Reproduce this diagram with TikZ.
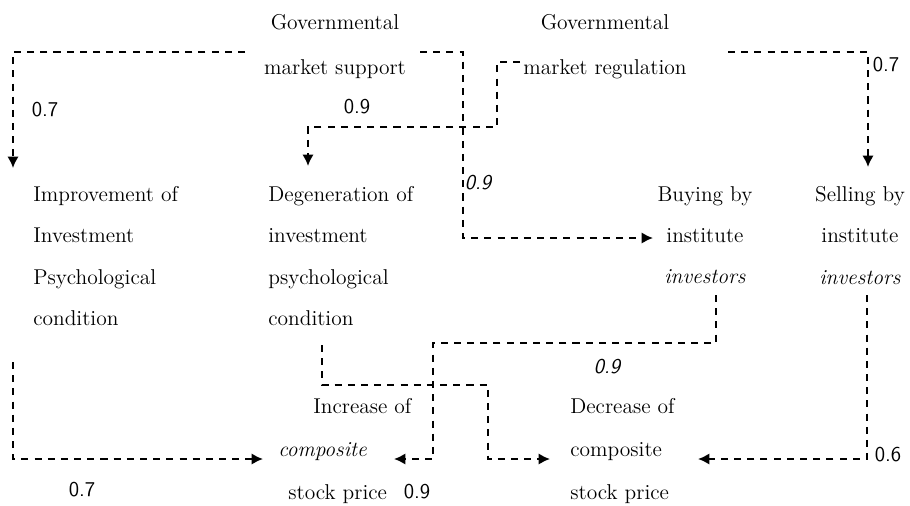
\documentclass[tikz,border=0pt]{standalone}
\usetikzlibrary{arrows.meta,calc}

\begin{document}
\begin{tikzpicture}[x=0.02cm,y=-0.02cm,
  every node/.style={inner sep=0pt,font=\fontsize{12.2}{23.5}\selectfont},
  head/.style={align=center,font=\fontsize{12.2}{25.5}\selectfont},
  lbl/.style={font=\sffamily\fontsize{12}{14}\selectfont},
  flow/.style={-{Latex[length=6.5pt,width=6.5pt]},dash pattern=on 4pt off 3.5pt,line width=1.1pt}]
\useasboundingbox[fill=white] (0,0) rectangle (910,505);
% causes
\node[head,anchor=north] (sup) at (335,14) {Governmental\\market support};
\node[head,anchor=north] (reg) at (605,14) {Governmental\\market regulation};
% middle level
\node[align=left,anchor=north west] (imp) at (33,186) {Improvement of\\Investment\\Psychological\\condition};
\node[align=left,anchor=north west] (deg) at (268,186) {Degeneration of\\investment\\psychological\\condition};
\node[align=center,anchor=north] (buy) at (705,186) {Buying by\\institute\\\textit{investors}};
\node[align=center,anchor=north] (sel) at (860,186) {Selling by\\institute\\\textit{investors}};
% effects
\node[align=left,anchor=north west,font=\fontsize{12.2}{24.4}\selectfont] (inc) at (278,398) {\hspace*{0.7cm}Increase of\\\textit{composite}\\\hspace*{0.2cm}stock price};
\node[align=left,anchor=north west,font=\fontsize{12.2}{24.4}\selectfont] (dec) at (570,398) {Decrease of\\composite\\stock price};
% weights
\node[lbl] (w1) at (45,110) {0.7};
\node[lbl] (w2) at (357,107) {0.9};
\node[lbl] (w3) at (478,183) {\itshape 0.9};
\node[lbl] (w4) at (886,65) {0.7};
\node[lbl] (w5) at (607,367) {\itshape 0.9};
\node[lbl] (w6) at (82,490) {0.7};
\node[lbl] (w7) at (417,492) {0.9};
\node[lbl] (w8) at (888,455) {0.6};
% links
\draw[flow] ($(sup.north)+(-90,38)$) -| ($(imp.north west)+(-20,-18)$);
\draw[flow] ($(sup.north)+(85,38)$) -- ++(43,0) |- ($(buy.north)+(-52,52)$);
\draw[flow] ($(reg.north)+(-85,48)$) -- ++(-23,0) -- ++(0,65) -| ($(deg.north west)+(40,-20)$);
\draw[flow] ($(reg.north)+(123,38)$) -| ($(sel.north)+(8,-19)$);
\draw[flow] ($(imp.north west)+(-20,176)$) |- ($(inc.north west)+(-15,61)$);
\draw[flow] ($(deg.north west)+(54,159)$) -- ++(0,40) -- ++(166,0) |- ($(dec.north west)+(-20,61)$);
\draw[flow] ($(buy.north)+(11,109)$) -- ++(0,48) -- ++(-283,0) |- ($(inc.north west)+(116,61)$);
\draw[flow] ($(sel.north)+(7,109)$) |- ($(dec.north west)+(128,61)$);
\end{tikzpicture}
\end{document}
